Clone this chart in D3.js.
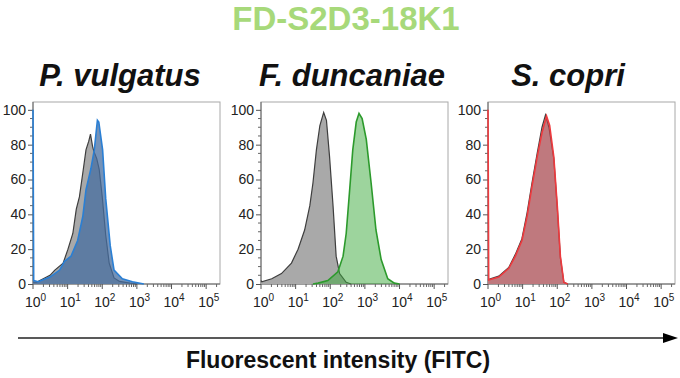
<!DOCTYPE html>
<html>
<head>
  <meta charset="utf-8">
  <title>FD-S2D3-18K1</title>
  <script src="https://d3js.org/d3.v7.min.js"></script>
  <style>
    body { margin: 0; background: #fff; }
    text { font-family: "Liberation Sans", Arial, sans-serif; }
  </style>
</head>
<body>
  <svg id="chart"></svg>

  <script>
    // histogram data: [log10 intensity, % of max]
    var pvControl = [[0,1],[0.1,1],[0.49,5],[0.63,8],[0.87,12],[1.01,20],[1.15,29],[1.25,43],[1.34,50],[1.44,64],[1.53,77],[1.61,82],[1.66,86],[1.72,79],[1.76,76],[1.84,72],[1.91,66],[2.0,50],[2.1,28],[2.2,12],[2.34,3.5],[2.5,1.5],[2.8,0.5],[3.0,0]];
    var pvStained = [[0,100],[0.02,2],[0.15,1.3],[0.49,4],[0.77,8],[0.91,13],[1.1,16],[1.29,25],[1.44,39],[1.53,54],[1.67,66],[1.77,77],[1.86,94],[1.9,93],[2.01,77],[2.1,49],[2.23,22],[2.34,8],[2.58,3],[2.87,1.3],[3.2,0]];

    var fdControl = [[0,2],[0.02,1.3],[0.31,3],[0.59,6],[0.88,12],[1.07,20],[1.26,31],[1.41,45],[1.5,58],[1.6,77],[1.7,91],[1.81,98.5],[1.89,94],[1.98,73],[2.08,45],[2.17,16],[2.27,6],[2.46,1],[2.6,0]];
    var fdStained = [[1.5,0],[1.65,0.5],[1.93,2],[2.22,7],[2.37,16],[2.46,29],[2.56,54],[2.65,77],[2.75,93],[2.83,98],[2.92,95],[3.04,83],[3.18,58],[3.32,31],[3.47,14],[3.66,3],[3.85,0.5],[4.0,0]];

    var scControl = [[0,2.5],[0.31,4.5],[0.6,9.5],[0.79,17],[0.98,26],[1.13,41],[1.27,58],[1.42,75],[1.56,90],[1.66,97],[1.76,90],[1.9,72],[2.0,44],[2.09,15],[2.19,1],[2.3,0]];
    var scStained = [[0,100],[0.02,2.3],[0.31,4],[0.6,9],[0.79,16],[0.98,25],[1.13,39],[1.27,56],[1.42,73],[1.56,87],[1.69,96.5],[1.78,91],[1.9,73],[2.0,45],[2.09,16],[2.19,1],[2.3,0]];

    var panelTitles = ["P. vulgatus", "F. duncaniae", "S. copri"];
    var yTicks = [0, 20, 40, 60, 80, 100];
    var xTicks = [0, 1, 2, 3, 4, 5];

    var panels = [
      { title: panelTitles[0], control: pvControl, stained: pvStained, left: 33, titleX: 120,
        fill: "rgba(70,110,160,0.75)", stroke: "#2a7fd4" },
      { title: panelTitles[1], control: fdControl, stained: fdStained, left: 261, titleX: 352,
        fill: "rgba(60,170,60,0.5)", stroke: "#2c9a2c" },
      { title: panelTitles[2], control: scControl, stained: scStained, left: 488, titleX: 568,
        fill: "rgba(215,70,80,0.48)", stroke: "#ee3a3e" }
    ];

    var W = 680, H = 378;
    var svg = d3.select("#chart").attr("width", W).attr("height", H);

    var pw = 187, plotTop = 102, plotBottom = 284;
    var xMax = Math.pow(10, 5.4);

    // main title
    svg.append("text")
      .attr("x", 346).attr("y", 30)
      .attr("text-anchor", "middle")
      .attr("font-size", 33).attr("font-weight", "bold")
      .attr("fill", "#a7d97a")
      .text("FD-S2D3-18K1");

    panels.forEach(function(p) {
      var x = d3.scaleLog().domain([1, xMax]).range([p.left, p.left + pw]);
      var y = d3.scaleLinear().domain([0, 104.5]).range([plotBottom, plotTop]);

      var g = svg.append("g");

      g.append("text")
        .attr("x", p.titleX).attr("y", 86)
        .attr("text-anchor", "middle")
        .attr("font-size", 31).attr("font-weight", "bold").attr("font-style", "italic")
        .attr("fill", "#111")
        .text(p.title);

      // frame
      g.append("rect")
        .attr("x", p.left).attr("y", plotTop)
        .attr("width", pw).attr("height", plotBottom - plotTop)
        .attr("fill", "none").attr("stroke", "#a8a8a8").attr("stroke-width", 1);

      // y axis
      var yAxis = d3.axisLeft(y).tickValues(yTicks).tickSize(5).tickPadding(2);
      var ya = g.append("g").attr("transform", "translate(" + p.left + ",0)").call(yAxis);
      ya.selectAll("text").attr("font-size", 14).attr("fill", "#222")
        .style("font-family", "Liberation Sans, Arial, sans-serif");
      ya.selectAll("line").attr("stroke", "#555");
      ya.select(".domain").attr("stroke", "#666").attr("d", "M0," + plotBottom + "V" + plotTop);

      var yMinor = d3.range(0, 105, 5).filter(function(v) { return v % 20 !== 0; });
      g.selectAll(".yminor").data(yMinor).enter().append("line")
        .attr("x1", p.left - 3).attr("x2", p.left)
        .attr("y1", function(d) { return y(d); }).attr("y2", function(d) { return y(d); })
        .attr("stroke", "#666");

      // x axis
      var xa = g.append("g").attr("transform", "translate(0," + plotBottom + ")");
      xa.append("line").attr("x1", p.left).attr("x2", p.left + pw)
        .attr("stroke", "#666");
      var minor = [];
      for (var e = 0; e < 6; e++) {
        for (var m = 2; m < 10; m++) {
          var v = m * Math.pow(10, e);
          if (v <= xMax) minor.push(v);
        }
      }
      xa.selectAll(".xminor").data(minor).enter().append("line")
        .attr("x1", function(d) { return x(d); }).attr("x2", function(d) { return x(d); })
        .attr("y1", 0).attr("y2", 3).attr("stroke", "#666");
      xa.selectAll(".xmajor").data(xTicks).enter().append("line")
        .attr("x1", function(d) { return x(Math.pow(10, d)); }).attr("x2", function(d) { return x(Math.pow(10, d)); })
        .attr("y1", 0).attr("y2", 5).attr("stroke", "#555");
      var lab = xa.selectAll(".xlab").data(xTicks).enter().append("text")
        .attr("x", function(d) { return x(Math.pow(10, d)) - 8; })
        .attr("y", 23)
        .attr("font-size", 14).attr("fill", "#222");
      lab.append("tspan").text("10");
      lab.append("tspan").attr("dy", -6).attr("font-size", 10).text(function(d) { return d; });

      // histograms on top of the axes
      var area = d3.area()
        .x(function(d) { return x(Math.pow(10, d[0])); })
        .y0(y(0))
        .y1(function(d) { return y(d[1]); });
      var line = d3.line()
        .x(function(d) { return x(Math.pow(10, d[0])); })
        .y(function(d) { return y(d[1]); });

      g.append("path").datum(p.control)
        .attr("fill", "#a9a9a9").attr("d", area);
      g.append("path").datum(p.control)
        .attr("fill", "none").attr("stroke", "#3e3e3e").attr("stroke-width", 1.2).attr("d", line);

      g.append("path").datum(p.stained)
        .attr("fill", p.fill).attr("d", area);
      g.append("path").datum(p.stained)
        .attr("fill", "none").attr("stroke", p.stroke).attr("stroke-width", 1.6).attr("d", line);
    });

    // bottom arrow
    svg.append("defs").append("marker")
      .attr("id", "head").attr("viewBox", "0 0 15 10")
      .attr("refX", 0).attr("refY", 5)
      .attr("markerWidth", 15).attr("markerHeight", 11)
      .attr("markerUnits", "userSpaceOnUse")
      .attr("orient", "auto")
      .append("path").attr("d", "M0,0L15,5L0,10Z").attr("fill", "#000");
    svg.append("line")
      .attr("x1", 18).attr("x2", 663).attr("y1", 338).attr("y2", 338)
      .attr("stroke", "#222").attr("stroke-width", 1.5)
      .attr("marker-end", "url(#head)");

    svg.append("text")
      .attr("x", 338).attr("y", 368)
      .attr("text-anchor", "middle")
      .attr("font-size", 23).attr("font-weight", "bold").attr("fill", "#111")
      .text("Fluorescent intensity (FITC)");
  </script>
</body>
</html>
